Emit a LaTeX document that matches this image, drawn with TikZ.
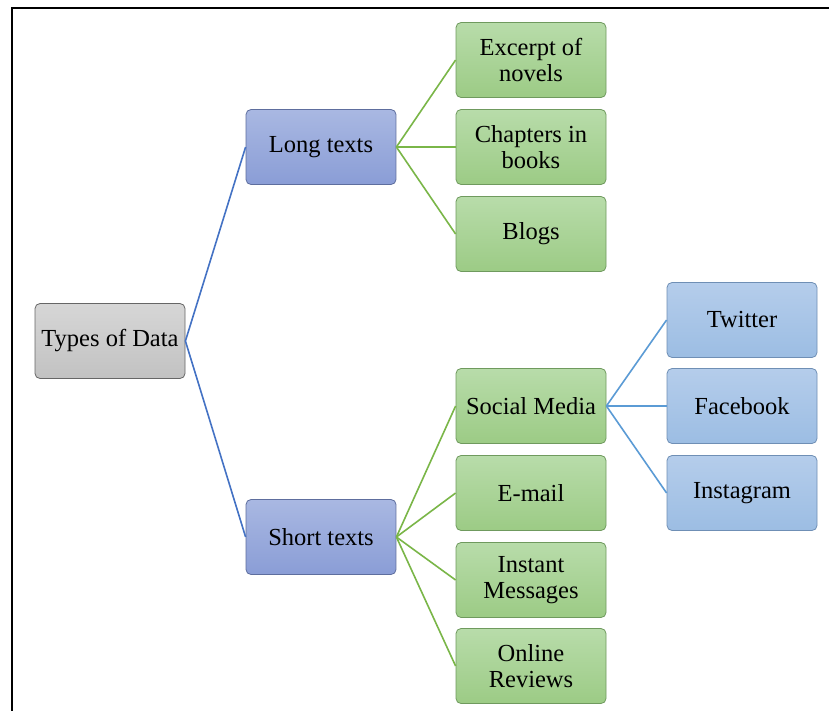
\documentclass[tikz,border=0pt]{standalone}
\usepackage{fontspec}
\setmainfont{Liberation Serif}
\begin{document}
\begin{tikzpicture}[x=1pt,y=-1pt,
  box/.style={rectangle, rounded corners=5pt, minimum width=150pt, minimum height=75pt,
    inner sep=2pt, align=center, line width=0.8pt,
    font=\fontsize{24.5}{25.5}\selectfont},
  rootbox/.style={box, draw=gray!80!black, top color=gray!32, bottom color=gray!48},
  midbox/.style={box, draw=midblueedge, top color=midbluetop, bottom color=midbluebot},
  leafbox/.style={box, draw=greenedge, top color=greentop, bottom color=greenbot},
  subbox/.style={box, draw=skyedge, top color=skytop, bottom color=skybot},
  bluelink/.style={draw=linkblue, line width=1.6pt},
  greenlink/.style={draw=linkgreen, line width=1.6pt},
  skylink/.style={draw=linksky, line width=1.6pt}]
\definecolor{midbluetop}{HTML}{A9B8E2}
\definecolor{midbluebot}{HTML}{8A9DD6}
\definecolor{midblueedge}{HTML}{5E6E9E}
\definecolor{greentop}{HTML}{B8DCAA}
\definecolor{greenbot}{HTML}{9CCB85}
\definecolor{greenedge}{HTML}{6F9A5E}
\definecolor{skytop}{HTML}{B5CDEB}
\definecolor{skybot}{HTML}{9CBDE3}
\definecolor{skyedge}{HTML}{6F8FB5}
\definecolor{linkblue}{HTML}{4472C4}
\definecolor{linkgreen}{HTML}{7AB648}
\definecolor{linksky}{HTML}{5B9BD5}

\useasboundingbox (0,0) rectangle (829,710);
\fill[white] (0,0) rectangle (829,710);

% outer frame (top and left edges)
\draw[line width=2.2pt] (12,712) -- (12,7.7) -- (831,7.7);

% root and branches
\node[rootbox] (root) at (110,341) {Types of Data};
\node[midbox] (long) at (321,147) {Long texts};
\node[midbox] (short) at (321,537) {Short texts};

% long-text leaves
\node[leafbox] (excerpt) at (531,60) {Excerpt of\\novels};
\node[leafbox] (chapters) at (531,147) {Chapters in\\books};
\node[leafbox] (blogs) at (531,234) {Blogs};

% short-text leaves
\node[leafbox] (social) at (531,406) {Social Media};
\node[leafbox] (email) at (531,493) {E-mail};
\node[leafbox] (instant) at (531,580) {Instant\\Messages};
\node[leafbox] (online) at (531,666) {Online\\Reviews};

% social media platforms
\node[subbox] (twitter) at (742,320) {Twitter};
\node[subbox] (facebook) at (742,406) {Facebook};
\node[subbox] (instagram) at (742,493) {Instagram};

% connectors
\path[bluelink] (root.east) -- (long.west);
\path[bluelink] (root.east) -- (short.west);
\foreach \n in {excerpt,chapters,blogs}
  \path[greenlink] (long.east) -- (\n.west);
\foreach \n in {social,email,instant,online}
  \path[greenlink] (short.east) -- (\n.west);
\foreach \n in {twitter,facebook,instagram}
  \path[skylink] (social.east) -- (\n.west);
\end{tikzpicture}
\end{document}
